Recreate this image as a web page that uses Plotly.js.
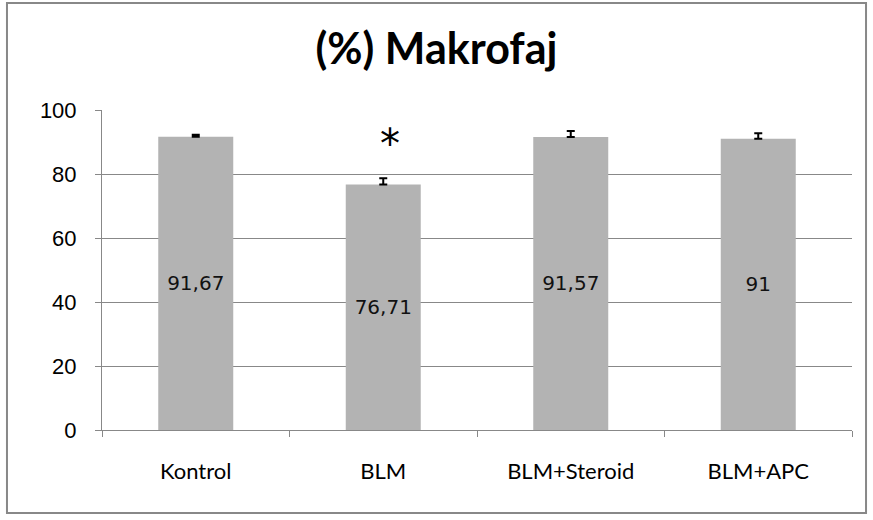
<!DOCTYPE html>
<html><head><meta charset="utf-8">
<script src="https://cdn.plot.ly/plotly-3.0.1.min.js"></script>
<style>html,body{margin:0;padding:0;background:#fff}#chart{width:873px;height:520px}</style>
</head><body><div id="chart"></div>
<script>
const categories = ["Kontrol", "BLM", "BLM+Steroid", "BLM+APC"];
const values = [91.67, 76.71, 91.57, 91];
const errorsPlus = [0.6, 2.0, 1.9, 1.7];
const barLabels = ["91,67", "76,71", "91,57", "91"];
const yTicks = [0, 20, 40, 60, 80, 100];

const trace = {
  type: 'bar', x: categories, y: values, width: 0.4,
  marker: {color: '#b3b3b3'},
  text: barLabels, textposition: 'inside', insidetextanchor: 'middle',
  textangle: 0,
  textfont: {family: 'DejaVu Sans', size: 20, color: '#111'},
  error_y: {type: 'data', symmetric: false, array: errorsPlus, arrayminus: values.map(() => 0),
            color: '#000', thickness: 2, width: 4},
  hoverinfo: 'none'
};
const layout = {
  width: 873, height: 520,
  margin: {l: 102, r: 21, t: 110, b: 90},
  paper_bgcolor: '#fff', plot_bgcolor: '#fff',
  showlegend: false,
  title: {text: '<b>(%) Makrofaj</b>', font: {family: 'Lato', size: 43, color: '#000'}, x: 0.5, xanchor: 'center', y: 0.905, yanchor: 'middle'},
  xaxis: {type: 'category', showgrid: false, showline: true, linecolor: '#888', linewidth: 1,
          ticks: 'outside', tickson: 'boundaries', ticklen: 6, tickcolor: '#888',
          ticklabelstandoff: 22,
          tickfont: {family: 'Lato', size: 22, color: '#000'}},
  yaxis: {range: [0, 100], tickvals: yTicks, showgrid: true, gridcolor: '#888', gridwidth: 1,
          showline: true, linecolor: '#888', linewidth: 1, zeroline: false,
          ticks: 'outside', ticklen: 6, tickcolor: '#888', ticklabelstandoff: 14,
          tickfont: {family: 'Liberation Sans', size: 22, color: '#000'}},
  shapes: [
    {type: 'rect', xref: 'paper', yref: 'paper', x0: -0.1267, x1: 1.0187, y0: -0.259, y1: 1.334,
     line: {color: '#888', width: 2}, fillcolor: 'rgba(0,0,0,0)'},
    {type: 'rect', xref: 'x', yref: 'paper', x0: 0.86, x1: 1.185, y0: 0.828, y1: 1.022,
     layer: 'above', line: {width: 0}, fillcolor: '#fff'}
  ],
  annotations: [
    {x: 1, y: 93, xref: 'x', yref: 'y', text: '*', showarrow: false, xshift: 7, yshift: -12,
     font: {family: 'DejaVu Sans', size: 40, color: '#000'}}
  ]
};
Plotly.newPlot('chart', [trace], layout, {staticPlot: true});
</script></body></html>
